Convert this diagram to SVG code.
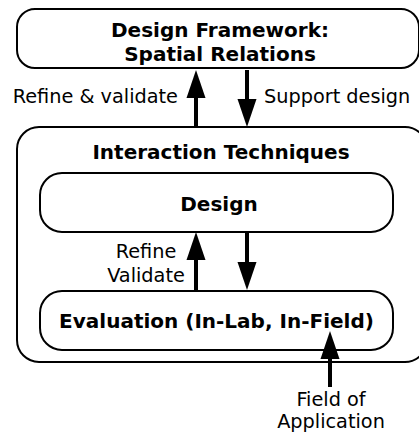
<svg xmlns="http://www.w3.org/2000/svg" width="419" height="434" viewBox="0 0 419 434">
<style>
.box{fill:#fff;stroke:#000;stroke-width:2}
.t{font-family:"DejaVu Sans","Verdana",sans-serif;font-size:19.3px;fill:#000}
.b{font-weight:bold;font-size:20px;text-anchor:middle}
.c{text-anchor:middle}
.e{text-anchor:end}
.shaft{stroke:#000;stroke-width:4;fill:none}
</style>
<defs>
<polygon id="headUp" points="0,0 -9.5,28 9.5,28" fill="#000"/>
<polygon id="headDown" points="0,0 -9.5,-28 9.5,-28" fill="#000"/>
</defs>
<g id="framework">
<rect class="box" x="17" y="9" width="402" height="59" rx="18"/>
<text class="t b" x="220" y="37">Design Framework:</text>
<text class="t b" x="220" y="61">Spatial Relations</text>
</g>
<g id="techniques">
<rect class="box" x="17" y="127" width="410" height="235" rx="22"/>
<text class="t b" x="221" y="159">Interaction Techniques</text>
</g>
<g id="design">
<rect class="box" x="40" y="173" width="353" height="59" rx="22"/>
<text class="t b" x="219" y="211">Design</text>
</g>
<g id="evaluation">
<rect class="box" x="40" y="291" width="353" height="59" rx="22"/>
<text class="t b" x="216.5" y="328">Evaluation (In-Lab, In-Field)</text>
</g>
<g id="connectors">
<line class="shaft" x1="196" y1="127" x2="196" y2="95"/>
<use href="#headUp" x="196" y="70"/>
<line class="shaft" x1="247" y1="70" x2="247" y2="102"/>
<use href="#headDown" x="247" y="127"/>
<line class="shaft" x1="196" y1="290" x2="196" y2="258"/>
<use href="#headUp" x="196" y="232"/>
<line class="shaft" x1="247" y1="232" x2="247" y2="264"/>
<use href="#headDown" x="247" y="290"/>
<line class="shaft" x1="330" y1="387" x2="330" y2="356"/>
<use href="#headUp" x="330" y="331"/>
</g>
<g id="labels">
<text class="t e" x="178" y="103">Refine &amp; validate</text>
<text class="t" x="264" y="103">Support design</text>
<text class="t c" x="146" y="258">Refine</text>
<text class="t c" x="146" y="282">Validate</text>
<text class="t c" x="331" y="406">Field of</text>
<text class="t c" x="331" y="428">Application</text>
</g>
</svg>
